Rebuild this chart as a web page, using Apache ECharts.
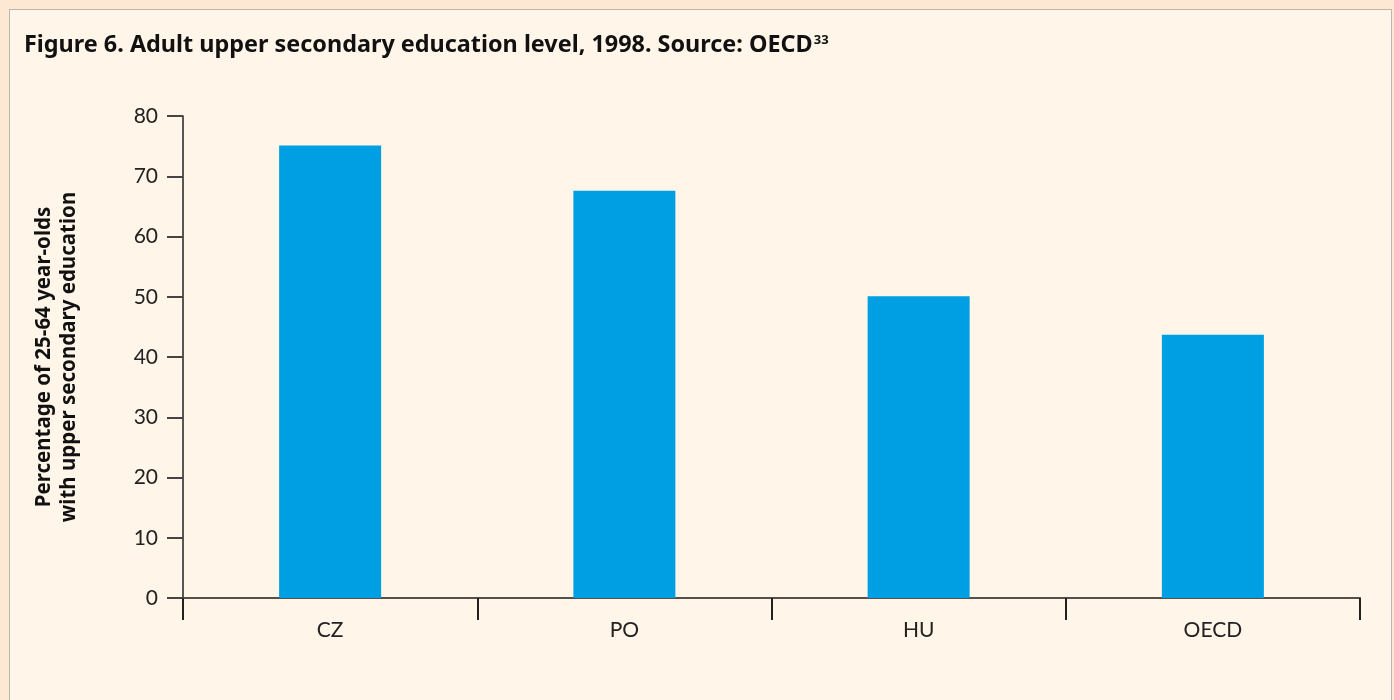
<!DOCTYPE html>
<html>
<head>
<meta charset="utf-8">
<script src="https://cdn.jsdelivr.net/npm/echarts@6/dist/echarts.min.js"></script>
<style>
  html, body { margin: 0; padding: 0; background: #fde8d3; }
  .card {
    position: absolute; left: 9px; top: 9px; width: 1381px; height: 720px;
    background: #fff5e9; border: 1px solid #bdb6ae;
  }
  #chart { position: absolute; left: 0; top: 0; width: 1394px; height: 700px; }
</style>
</head>
<body>
<div class="card"></div>
<div id="chart"></div>
<script>
var categories = ["CZ", "PO", "HU", "OECD"];
var values = [75.1, 67.6, 50.1, 43.7];
var yTicks = [0, 10, 20, 30, 40, 50, 60, 70, 80];

var chart = echarts.init(document.getElementById("chart"));
chart.setOption({
  backgroundColor: "transparent",
  title: {
    left: 19,
    top: 29,
    text: "{t|Figure 6. Adult upper secondary education level, 1998. Source: OECD}{s|33}",
    textStyle: {
      rich: {
        t: { fontFamily: "Noto Sans", fontWeight: "bold", fontSize: 23.4, color: "#111" },
        s: { fontFamily: "Noto Sans", fontWeight: "bold", fontSize: 13, color: "#111", verticalAlign: "top", padding: [0, 0, 9, 1] }
      }
    }
  },
  grid: { left: 183, right: 34, top: 116, bottom: 102, containLabel: false },
  xAxis: {
    type: "category",
    data: categories,
    axisLine: { lineStyle: { color: "#55504c", width: 2 } },
    axisTick: { show: true, length: 22, lineStyle: { color: "#222", width: 2 } },
    axisLabel: { color: "#222", fontFamily: "Lato", fontSize: 21, margin: 22 }
  },
  yAxis: {
    type: "value",
    min: yTicks[0],
    max: yTicks[yTicks.length - 1],
    interval: 10,
    name: "Percentage of 25-64 year-olds\nwith upper secondary education",
    nameLocation: "middle",
    nameGap: 101,
    nameTextStyle: { fontFamily: "Noto Sans", fontWeight: "bold", fontSize: 20.5, color: "#111", lineHeight: 25 },
    axisLine: { show: true, lineStyle: { color: "#222", width: 1.5 } },
    axisTick: { show: true, inside: false, length: 16, lineStyle: { color: "#444", width: 2 } },
    axisLabel: { color: "#222", fontFamily: "Lato", fontSize: 21, margin: 25 },
    splitLine: { show: false }
  },
  series: [{
    type: "bar",
    data: values,
    barWidth: 102,
    itemStyle: { color: "#009fe3" }
  }]
});
</script>
</body>
</html>
